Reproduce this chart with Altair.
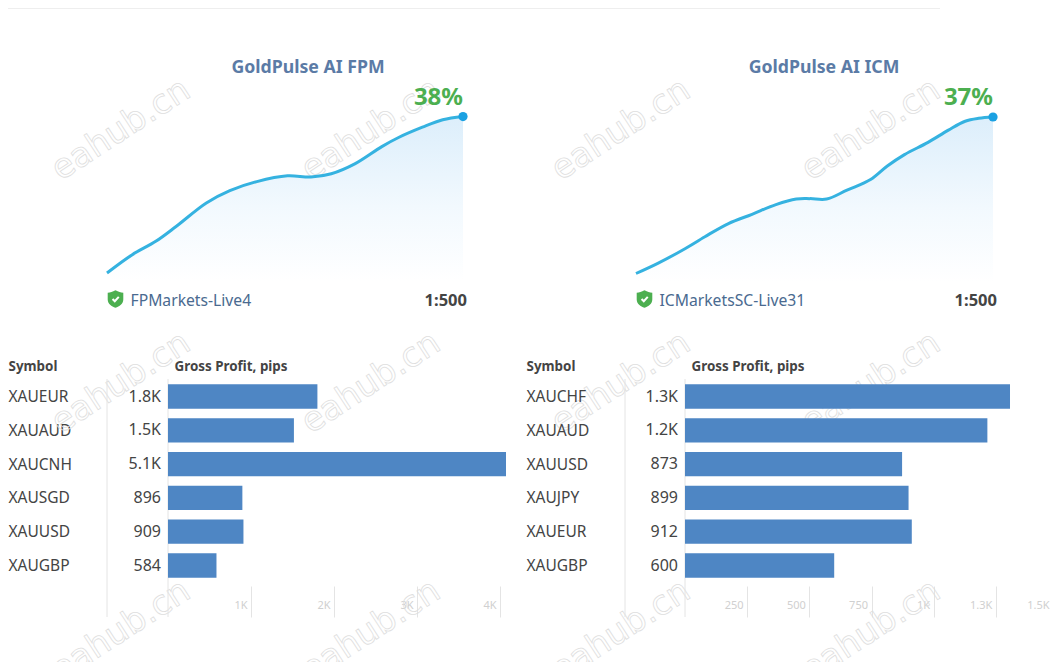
import altair as alt
import pandas as pd

FONT = "Noto Sans"

# Equity curves
fpm_x = [0, 7, 13.7, 19.4, 27.9, 34.5, 42.1, 50.7, 57.3, 63, 69.6, 77.2, 81.9, 88.6, 94.3, 100]
fpm_y = [0, 4.4, 7.7, 11.3, 17.0, 20.0, 22.2, 23.6, 23.3, 24.1, 26.5, 30.7, 32.9, 35.4, 37.2, 38]
icm_x = [0, 6.1, 13.6, 19.3, 25.9, 32.5, 39.2, 44.9, 48.7, 53.4, 59.1, 65.7, 70.4, 75.2, 81.8, 87.5, 92.2, 96, 100]
icm_y = [0, 2.4, 5.8, 8.7, 11.8, 14.0, 16.3, 17.6, 17.7, 17.6, 19.7, 22.2, 25.4, 28.1, 31.0, 33.9, 36.0, 36.7, 37]

# Bars
fpm_symbols = ["XAUEUR", "XAUAUD", "XAUCNH", "XAUSGD", "XAUUSD", "XAUGBP"]
fpm_values = [1800, 1517, 5100, 896, 909, 584]
fpm_labels = ["1.8K", "1.5K", "5.1K", "896", "909", "584"]
fpm_ticks = [1000, 2000, 3000, 4000]
fpm_tick_labels = ["1K", "2K", "3K", "4K"]

icm_symbols = ["XAUCHF", "XAUAUD", "XAUUSD", "XAUJPY", "XAUEUR", "XAUGBP"]
icm_values = [1307, 1216, 873, 899, 912, 600]
icm_labels = ["1.3K", "1.2K", "873", "899", "912", "600"]
icm_ticks = [250, 500, 750, 1000, 1250, 1500]
icm_tick_labels = ["250", "500", "750", "1K", "1.3K", "1.5K"]

WM = "eahub.cn"
SHIELD = "M0,-1 C0.35,-0.8 0.6,-0.75 0.9,-0.72 L0.9,0.05 C0.9,0.55 0.45,0.85 0,1 C-0.45,0.85 -0.9,0.55 -0.9,0.05 L-0.9,-0.72 C-0.6,-0.75 -0.35,-0.8 0,-1 Z"
CHECK = "M-0.5,0 L-0.12,0.38 L0.55,-0.35"


def watermark(centres, origin):
    out = []
    for cx, cy in centres:
        out.append(
            alt.Chart(pd.DataFrame({"t": [WM]})).mark_text(
                font="DejaVu Sans", fontSize=34, angle=327, align="center", baseline="middle",
                stroke="#dedede", strokeWidth=0.8, fillOpacity=0,
            ).encode(x=alt.value(cx - origin[0]), y=alt.value(cy - origin[1]), text="t:N")
        )
    return out


def separator():
    return alt.Chart(pd.DataFrame({"a": [0]})).mark_rule(color="#e4e4e4", strokeWidth=1).encode(
        x=alt.value(0), y=alt.value(0), y2=alt.value(238))


def curve(xs, ys, width, y_domain, title, title_x, server, leverage, pct, marks, rule=False):
    df = pd.DataFrame({"x": xs, "y": ys, "base": [-2] * len(xs)})
    x = alt.X("x:Q", axis=None, scale=alt.Scale(domain=[0, 100]))
    y = alt.Y("y:Q", axis=None, scale=alt.Scale(domain=y_domain))
    base = alt.Chart(df)
    grad = alt.Gradient(gradient="linear", x1=0, x2=0, y1=0, y2=1,
                        stops=[alt.GradientStop(color="#dceefb", offset=0),
                               alt.GradientStop(color="#f2f9fe", offset=0.55),
                               alt.GradientStop(color="#ffffff", offset=1)])
    layers = list(marks)
    if rule:
        layers.append(alt.Chart(pd.DataFrame({"a": [0]})).mark_rule(color="#eeeeee", strokeWidth=1).encode(
            x=alt.value(-99), x2=alt.value(833), y=alt.value(-81.5)))
    layers += [
        base.mark_area(fill=grad, interpolate="catmull-rom").encode(x=x, y=y, y2="base:Q"),
        base.mark_line(color="#35b2e0", strokeWidth=3, interpolate="catmull-rom").encode(x=x, y=y),
        alt.Chart(pd.DataFrame({"x": [100], "y": [ys[-1]]})).mark_point(filled=True, color="#1ba1e2", size=85, opacity=1).encode(x=x, y=y),
        alt.Chart(pd.DataFrame({"x": [100], "y": [ys[-1]], "t": [pct]})).mark_text(
            font=FONT, fontSize=24, fontWeight="bold", color="#4caf50", align="right", dy=-19
        ).encode(x=x, y=y, text="t:N"),
        alt.Chart(pd.DataFrame({"t": [title]})).mark_text(
            font=FONT, fontSize=17.7, fontWeight="bold", color="#5b7ba6", align="center", baseline="middle"
        ).encode(x=alt.value(title_x), y=alt.value(-22.5), text="t:N"),
        alt.Chart(pd.DataFrame({"a": [0]})).mark_point(shape=SHIELD, filled=True, color="#4caf50", size=300, opacity=1).encode(
            x=alt.value(8.5), y=alt.value(209)),
        alt.Chart(pd.DataFrame({"a": [0]})).mark_point(shape=CHECK, filled=False, color="#ffffff", size=140, strokeWidth=2, opacity=1).encode(
            x=alt.value(8.5), y=alt.value(209)),
        alt.Chart(pd.DataFrame({"t": [server]})).mark_text(
            font=FONT, fontSize=15.7, color="#4a6a90", align="left", baseline="middle"
        ).encode(x=alt.value(23.5), y=alt.value(210.5), text="t:N"),
        alt.Chart(pd.DataFrame({"t": [leverage]})).mark_text(
            font=FONT, fontSize=16.5, fontWeight="bold", color="#444444", align="right", baseline="middle"
        ).encode(x=alt.value(width + 4), y=alt.value(210.5), text="t:N"),
    ]
    return alt.layer(*layers).properties(width=width, height=220)


def y_band(symbols, axis):
    return alt.Y("s:N", sort=None, axis=axis,
                 scale=alt.Scale(domain=symbols, range=[0.6, 203.4], paddingInner=0.28, paddingOuter=0.14))


def values_panel(symbols, labels, width, marks, pad=99):
    df = pd.DataFrame({"s": symbols, "t": labels})
    axis = alt.Axis(title="Symbol", titleFont=FONT, titleFontSize=13.4, titleFontWeight="bold", titleColor="#444444",
                    titleAngle=0, titleAlign="left", titleBaseline="middle", titleX=-pad, titleY=-13,
                    labelFont=FONT, labelFontSize=15.5, labelColor="#444444", labelAlign="left", labelPadding=pad,
                    labelLimit=0, ticks=False, domain=False)
    txt = alt.Chart(df).mark_text(font=FONT, fontSize=16, color="#444444", align="right", baseline="middle").encode(
        x=alt.value(width - 7), y=y_band(symbols, axis), text="t:N")
    return alt.layer(*marks, separator(), txt).properties(width=width, height=238)


def bars_panel(symbols, values, ticks, tick_labels, domain, width, marks):
    df = pd.DataFrame({"s": symbols, "v": values})
    expr = f"{tick_labels}[indexof({ticks}, datum.value)]"
    x_axis = alt.Axis(values=ticks, labelExpr=expr, orient="bottom", offset=-31, tickSize=31, tickColor="#e4e4e4",
                      domain=False, grid=False, labelFont=FONT, labelFontSize=11, labelColor="#d0d0d0",
                      labelAlign="right", labelBaseline="middle",
                      labelOffset={"condition": {"test": "datum.value === 1500", "value": -9}, "value": -4},
                      labelPadding=-12, labelBound=False, labelFlush=False, labelOverlap=False,
                      title="Gross Profit, pips", titleFont=FONT, titleFontSize=13.4, titleFontWeight="bold",
                      titleColor="#444444", titleAlign="left", titleBaseline="middle", titleX=6, titleY=-220,
                      titleAnchor="start")
    y_axis = alt.Axis(title=None, labels=False, ticks=False, domain=False)
    bars = alt.Chart(df).mark_bar(color="#4e86c4", clip=True).encode(
        x=alt.X("v:Q", axis=x_axis, scale=alt.Scale(domain=domain, nice=False, zero=True)),
        y=y_band(symbols, y_axis),
    )
    return alt.layer(*marks, separator(), bars).properties(width=width, height=238)


top_left = curve(fpm_x, fpm_y, 356, [-8.98, 44.44], "GoldPulse AI FPM", 201, "FPMarkets-Live4", "1:500", "38%",
                 watermark([(121, 130), (371, 130)], (107, 90)), rule=True)
top_right = curve(icm_x, icm_y, 357, [-8.63, 43.38], "GoldPulse AI ICM", 188, "ICMarketsSC-Live31", "1:500", "37%",
                  watermark([(621, 130), (871, 130)], (636, 90)))

val_l = values_panel(fpm_symbols, fpm_labels, 61, watermark([(121, 382), (121, 630)], (107, 378)))
bar_l = bars_panel(fpm_symbols, fpm_values, fpm_ticks, fpm_tick_labels, [0, 4072], 338,
                   watermark([(371, 382), (371, 630)], (168, 378)))
spacer = alt.layer(*watermark([(621, 382), (621, 630)], (506, 378))).properties(width=119, height=238)
val_r = values_panel(icm_symbols, icm_labels, 60, [], pad=99)
bar_r = bars_panel(icm_symbols, icm_values, icm_ticks, icm_tick_labels, [0, 1500], 373,
                   watermark([(871, 382), (871, 630)], (685, 378)))

row1 = alt.hconcat(top_left, top_right, spacing=173, bounds="flush").resolve_scale(x="independent", y="independent")
row2 = alt.hconcat(val_l, bar_l, spacer, val_r, bar_r, spacing=0, bounds="flush").resolve_scale(x="independent", y="independent")

chart = alt.vconcat(row1, row2, spacing=15).properties(
    padding={"left": 99, "top": 82, "right": 944, "bottom": 572},
    autosize=alt.AutoSizeParams(type="none"),
    background="#ffffff",
).configure_view(stroke=None)

chart.save("out.html", embed_options={"renderer": "svg", "actions": False})
